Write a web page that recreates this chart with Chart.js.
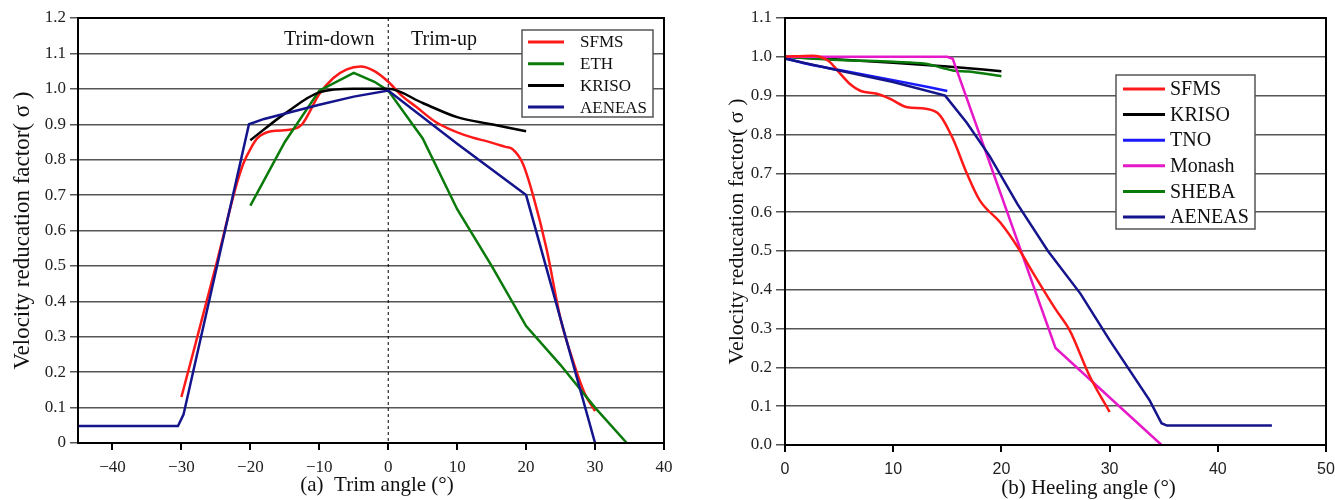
<!DOCTYPE html>
<html>
<head>
<meta charset="utf-8">
<script src="https://cdn.jsdelivr.net/npm/chart.js@4.4.1/dist/chart.umd.min.js"></script>
<style>
  html, body { margin: 0; padding: 0; background: #fff; }
  #wrapA { position: absolute; left: 0; top: 0; width: 680px; height: 500px; }
  #wrapB { position: absolute; left: 680px; top: 0; width: 655px; height: 500px; }
</style>
</head>
<body>
<div id="wrapA"><canvas id="trimChart"></canvas></div>
<div id="wrapB"><canvas id="heelChart"></canvas></div>
<script>
// (a) trim angle
const trimXTicks = [-40, -30, -20, -10, 0, 10, 20, 30, 40];
const trimYTicks = [0, 0.1, 0.2, 0.3, 0.4, 0.5, 0.6, 0.7, 0.8, 0.9, 1.0, 1.1, 1.2];

const sfmsTrimX = [-30, -28.5, -25, -22, -21, -20, -19, -17, -14, -12.5, -10, -8, -6, -4, -2, 0, 2, 4, 7, 11, 15, 17, 18, 19.5, 21, 23, 25, 27, 28.5, 30];
const sfmsTrimY = [0.13, 0.24, 0.5, 0.73, 0.79, 0.83, 0.86, 0.88, 0.885, 0.9, 0.985, 1.03, 1.055, 1.063, 1.05, 1.02, 0.98, 0.95, 0.905, 0.87, 0.848, 0.836, 0.83, 0.79, 0.7, 0.545, 0.35, 0.22, 0.14, 0.09];
const ethTrimX = [-20, -15, -10, -5, -2, 0, 5, 10, 15, 20, 25, 30, 34.6];
const ethTrimY = [0.67, 0.85, 0.995, 1.045, 1.02, 0.995, 0.86, 0.66, 0.5, 0.33, 0.22, 0.1, 0.0];
const krisoTrimX = [-20, -15, -10, -5, 0, 5, 10, 15, 20];
const krisoTrimY = [0.855, 0.93, 0.99, 1.0, 1.0, 0.96, 0.92, 0.9, 0.88];
const aeneasTrimX = [-45, -30.5, -29.7, -20.2, -18, -10, -5, 0, 10, 20, 30];
const aeneasTrimY = [0.048, 0.048, 0.08, 0.9, 0.915, 0.955, 0.978, 0.995, 0.845, 0.7, 0];

// (b) heeling angle
const heelXTicks = [0, 10, 20, 30, 40, 50];
const heelYTicks = [0, 0.1, 0.2, 0.3, 0.4, 0.5, 0.6, 0.7, 0.8, 0.9, 1.0, 1.1];

const sfmsHeelX = [0, 2.5, 4, 5, 6, 7, 8.5, 9.7, 11.3, 13, 14.3, 15.5, 16.8, 18, 19.9, 21.5, 23, 25, 26.3, 28.2, 30];
const sfmsHeelY = [1.0, 1.003, 0.99, 0.96, 0.93, 0.912, 0.905, 0.892, 0.87, 0.866, 0.85, 0.79, 0.70, 0.63, 0.573, 0.51, 0.44, 0.35, 0.296, 0.175, 0.085];
const krisoHeelX = [0, 5, 10, 15, 20];
const krisoHeelY = [1.0, 0.993, 0.985, 0.975, 0.963];
const tnoHeelX = [0, 2, 5, 10, 15];
const tnoHeelY = [0.997, 0.982, 0.966, 0.94, 0.912];
const monashHeelX = [0, 15, 15.5, 25, 34.8];
const monashHeelY = [1.0, 1.0, 0.995, 0.25, 0];
const shebaHeelX = [0, 5, 10, 13, 15.5, 17, 20];
const shebaHeelY = [1.0, 0.992, 0.987, 0.982, 0.965, 0.962, 0.95];
const aeneasHeelX = [0, 5, 10, 14.8, 16.8, 18.9, 21.5, 24.3, 27.3, 30, 33.7, 34.8, 35.3, 45];
const aeneasHeelY = [0.995, 0.965, 0.935, 0.9, 0.83, 0.745, 0.62, 0.5, 0.39, 0.27, 0.115, 0.056, 0.05, 0.05];

const SERIF = "'Liberation Serif', 'Times New Roman', serif";
const SANS = "'Liberation Sans', Arial, sans-serif";

function pts(xs, ys) {
  return xs.map((x, i) => ({ x: x, y: ys[i] }));
}

function series(label, xs, ys, color, smooth, order) {
  return {
    label: label,
    data: pts(xs, ys),
    borderColor: color,
    backgroundColor: color,
    borderWidth: 2.5,
    pointRadius: 0,
    fill: false,
    tension: 0,
    cubicInterpolationMode: smooth ? 'monotone' : 'default',
    order: order
  };
}

// frame, zero line, notes, x caption and the boxed legend
const decor = {
  id: 'decor',
  beforeDatasetsDraw(chart, args, opts) {
    if (!opts.zeroLine) return;
    const { ctx, chartArea: a, scales } = chart;
    const x0 = scales.x.getPixelForValue(0);
    ctx.save();
    ctx.setLineDash([3, 3]);
    ctx.strokeStyle = '#000';
    ctx.lineWidth = 1;
    ctx.beginPath();
    ctx.moveTo(x0, a.top);
    ctx.lineTo(x0, a.bottom);
    ctx.stroke();
    ctx.restore();
  },
  afterDatasetsDraw(chart, args, opts) {
    const { ctx, chartArea: a, scales } = chart;
    ctx.save();
    (opts.notes || []).forEach(n => {
      ctx.font = '20px ' + SERIF;
      ctx.fillStyle = '#111';
      ctx.textAlign = n.align;
      ctx.textBaseline = 'middle';
      ctx.fillText(n.text, scales.x.getPixelForValue(n.x), scales.y.getPixelForValue(n.y));
    });

    if (opts.caption) {
      ctx.font = '21px ' + SERIF;
      ctx.fillStyle = '#111';
      ctx.textAlign = 'center';
      ctx.textBaseline = 'middle';
      ctx.fillText(opts.caption.text, (a.left + a.right) / 2 + opts.caption.dx, chart.height - opts.caption.up);
    }

    ctx.strokeStyle = '#000';
    ctx.lineWidth = 2;
    ctx.strokeRect(a.left, a.top, a.width, a.height);

    const L = opts.legend;
    const bx = a.left + L.dx, by = a.top + L.dy;
    ctx.fillStyle = '#fff';
    ctx.fillRect(bx, by, L.w, L.h);
    ctx.strokeStyle = '#555';
    ctx.lineWidth = 1.5;
    ctx.strokeRect(bx, by, L.w, L.h);
    ctx.font = L.fontSize + 'px ' + SERIF;
    ctx.textAlign = 'left';
    ctx.textBaseline = 'middle';
    chart.data.datasets.forEach((ds, i) => {
      const y = by + L.first + i * L.gap;
      ctx.strokeStyle = ds.borderColor;
      ctx.lineWidth = 3;
      ctx.beginPath();
      ctx.moveTo(bx + L.line0, y);
      ctx.lineTo(bx + L.line1, y);
      ctx.stroke();
      ctx.fillStyle = '#111';
      ctx.fillText(ds.label, bx + L.text, y + 1);
    });
    ctx.restore();
  }
};

const trimChart = new Chart(document.getElementById('trimChart'), {
  type: 'line',
  data: {
    datasets: [
      series('SFMS', sfmsTrimX, sfmsTrimY, '#ff1a1a', true, 3),
      series('ETH', ethTrimX, ethTrimY, '#0a7a0a', false, 2),
      series('KRISO', krisoTrimX, krisoTrimY, '#000000', true, 1),
      series('AENEAS', aeneasTrimX, aeneasTrimY, '#14148c', false, 0)
    ]
  },
  options: {
    responsive: true,
    maintainAspectRatio: false,
    animation: false,
    layout: { padding: { left: 9, top: 18, right: 16, bottom: 0 } },
    plugins: {
      legend: { display: false },
      tooltip: { enabled: false },
      decor: {
        zeroLine: true,
        notes: [
          { text: 'Trim-down', x: -2.0, y: 1.14, align: 'right' },
          { text: 'Trim-up', x: 3.3, y: 1.14, align: 'left' }
        ],
        caption: { text: '(a)  Trim angle (°)', dx: 6, up: 15 },
        legend: { dx: 444, dy: 12, w: 131, h: 87, first: 12, gap: 21.7, line0: 6, line1: 42, text: 58, fontSize: 17 }
      }
    },
    scales: {
      x: {
        type: 'linear',
        min: -45,
        max: 40,
        afterBuildTicks: s => { s.ticks = trimXTicks.map(v => ({ value: v })); },
        afterFit: s => { s.height = 57; },
        ticks: {
          font: { family: SERIF, size: 17 },
          color: '#222',
          padding: 7,
          maxRotation: 0,
          autoSkip: false,
          callback: v => (v < 0 ? '\u2212' + Math.abs(v) : String(v))
        },
        grid: { drawOnChartArea: false, drawTicks: true, tickLength: 7, color: '#000', lineWidth: 2 },
        border: { color: '#000', width: 2 }
      },
      y: {
        min: 0,
        max: 1.2,
        afterBuildTicks: s => { s.ticks = trimYTicks.map(v => ({ value: v })); },
        afterFit: s => { s.width = 69; },
        ticks: {
          font: { family: SERIF, size: 17 },
          color: '#222',
          padding: 4,
          callback: v => (v === 0 ? '0' : v.toFixed(1))
        },
        grid: { color: '#555', lineWidth: 1.5, tickLength: 8 },
        border: { color: '#000', width: 2 },
        title: { display: true, text: 'Velocity reducation factor( σ )', font: { family: SERIF, size: 23 }, color: '#111', padding: { top: 0, bottom: 0 } }
      }
    }
  },
  plugins: [decor]
});

const heelChart = new Chart(document.getElementById('heelChart'), {
  type: 'line',
  data: {
    datasets: [
      series('SFMS', sfmsHeelX, sfmsHeelY, '#ff1a1a', true, 1),
      series('KRISO', krisoHeelX, krisoHeelY, '#000000', true, 5),
      series('TNO', tnoHeelX, tnoHeelY, '#1a1aff', true, 3),
      series('Monash', monashHeelX, monashHeelY, '#e619c8', false, 2),
      series('SHEBA', shebaHeelX, shebaHeelY, '#0a7a0a', true, 4),
      series('AENEAS', aeneasHeelX, aeneasHeelY, '#14148c', false, 0)
    ]
  },
  options: {
    responsive: true,
    maintainAspectRatio: false,
    animation: false,
    layout: { padding: { left: 44, top: 18, right: 9, bottom: 0 } },
    plugins: {
      legend: { display: false },
      tooltip: { enabled: false },
      decor: {
        zeroLine: false,
        notes: [],
        caption: { text: '(b) Heeling angle (°)', dx: 33, up: 12 },
        legend: { dx: 331, dy: 57, w: 139, h: 154, first: 14, gap: 25.6, line0: 7, line1: 49, text: 54, fontSize: 20 }
      }
    },
    scales: {
      x: {
        type: 'linear',
        min: 0,
        max: 50,
        afterBuildTicks: s => { s.ticks = heelXTicks.map(v => ({ value: v })); },
        afterFit: s => { s.height = 55; s.paddingRight = 0; },
        ticks: {
          font: { family: SANS, size: 16 },
          color: '#222',
          padding: 8,
          maxRotation: 0,
          autoSkip: false
        },
        grid: { drawOnChartArea: false, drawTicks: true, tickLength: 7, color: '#000', lineWidth: 2 },
        border: { color: '#000', width: 2 }
      },
      y: {
        min: 0,
        max: 1.1,
        afterBuildTicks: s => { s.ticks = heelYTicks.map(v => ({ value: v })); },
        afterFit: s => { s.width = 61; },
        ticks: {
          font: { family: SERIF, size: 17 },
          color: '#222',
          padding: 4,
          callback: v => v.toFixed(1)
        },
        grid: { color: '#555', lineWidth: 1.5, tickLength: 9 },
        border: { color: '#000', width: 2 },
        title: { display: true, text: 'Velocity reducation factor( σ )', font: { family: SERIF, size: 22 }, color: '#111', padding: { top: 0, bottom: 0 } }
      }
    }
  },
  plugins: [decor]
});
</script>
</body>
</html>
